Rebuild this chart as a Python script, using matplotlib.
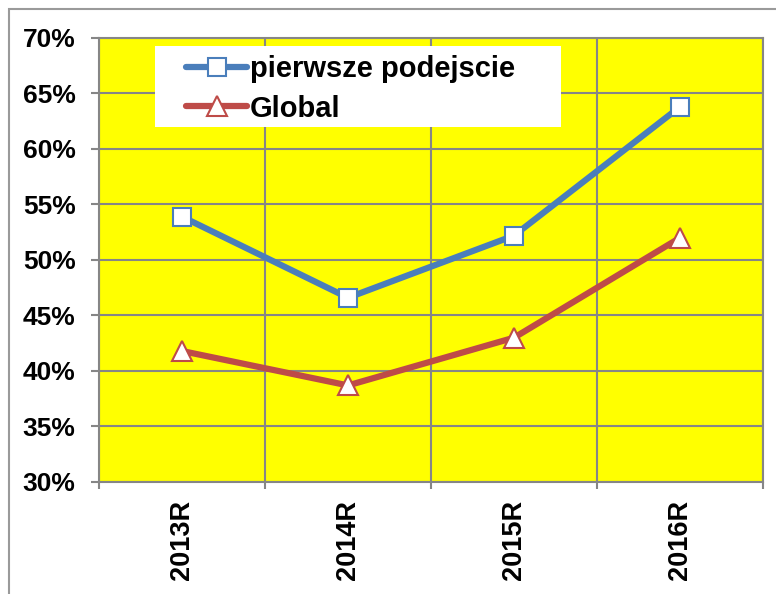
import matplotlib.pyplot as plt
from matplotlib.patches import Rectangle
from matplotlib.ticker import FixedLocator, PercentFormatter

plt.rcParams['font.family'] = ['Liberation Sans', 'DejaVu Sans']
plt.rcParams['font.weight'] = 'bold'

lata = ["2013R", "2014R", "2015R", "2016R"]
pierwsze = [53.9, 46.6, 52.2, 63.8]
globalne = [41.8, 38.7, 43.0, 52.0]

fig = plt.figure(figsize=(7.76, 5.94), dpi=100)
ax = fig.add_axes([99 / 776, 1 - 482 / 594, 664 / 776, 444 / 594])

# ramka wykresu
fig.patches.append(Rectangle((9 / 776, -0.1), 1.2, 1.1 - 9.5 / 594, transform=fig.transFigure,
                             fill=False, edgecolor='#9a9a9a', linewidth=1.5, zorder=-1))

ax.set_facecolor('#FFFF00')
x = range(len(lata))
ax.plot(x, pierwsze, color='#4A7EBB', lw=4.5, marker='s', ms=12.5,
        mfc='white', mec='#4A7EBB', mew=1.5, label='pierwsze podejscie', zorder=3,
        solid_capstyle='round')
ax.plot(x, globalne, color='#BE4B48', lw=4.5, marker='^', ms=14,
        mfc='white', mec='#BE4B48', mew=1.5, label='Global', zorder=3,
        solid_capstyle='round')

ax.set_xlim(-0.5, 3.5)
ax.set_ylim(30, 70)
ax.set_yticks(range(30, 71, 5))
ax.yaxis.set_major_formatter(PercentFormatter(decimals=0))
ax.set_xticks(list(x))
ax.set_xticklabels(lata, rotation=90, va='top')
ax.xaxis.set_minor_locator(FixedLocator([-0.5, 0.5, 1.5, 2.5, 3.5]))

ax.grid(axis='y', which='major', color='#868686', lw=1.5)
ax.grid(axis='x', which='minor', color='#868686', lw=1.5)
ax.set_axisbelow(True)
ax.tick_params(axis='x', which='major', length=0, pad=13, labelsize=19.5)
ax.tick_params(axis='x', which='minor', length=5, width=1.5, color='#868686')
ax.tick_params(axis='y', length=5.8, width=1.5, color='#868686', pad=11, labelsize=19)
for s in ax.spines.values():
    s.set_color('#868686')
    s.set_linewidth(1.5)

# biale tlo legendy
ax.add_patch(Rectangle(((155 - 99) / 664, (482 - 127) / 444), 406 / 664, 81 / 444,
                       transform=ax.transAxes, facecolor='white', edgecolor='none', zorder=4))
leg = ax.legend(loc='upper left', bbox_to_anchor=((186 - 99) / 664, (482 - 55) / 444),
                fontsize=21, frameon=False, handlelength=2.1, handletextpad=0.1,
                labelspacing=0.4, borderpad=0, borderaxespad=0)
leg.set_zorder(5)

fig.savefig('out.png', dpi=100)
